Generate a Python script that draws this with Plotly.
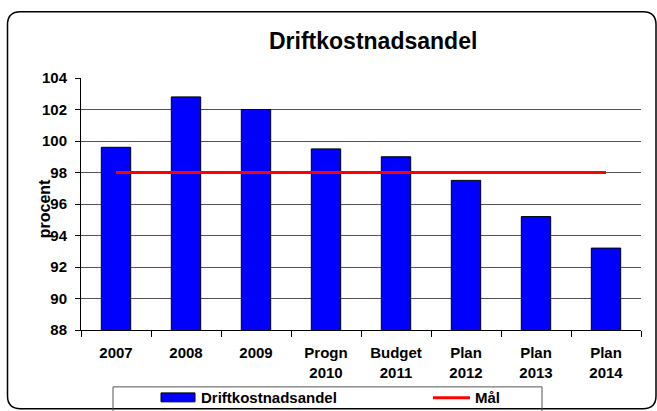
import plotly.graph_objects as go

categories = ["2007", "2008", "2009", "Progn<br>2010", "Budget<br>2011",
              "Plan<br>2012", "Plan<br>2013", "Plan<br>2014"]
andel = [99.6, 102.8, 102.0, 99.5, 99.0, 97.5, 95.2, 93.2]
mal = [98, 98, 98, 98, 98, 98, 98, 98]
y_ticks = [88, 90, 92, 94, 96, 98, 100, 102, 104]

W, H = 657, 411
ML, MR, MT, MB = 81, 16, 77.5, 81
PW = W - ML - MR
PH = H - MT - MB

def px(x):
    return (x - ML) / PW

def py(y):
    return (H - MB - y) / PH

FONT = "Liberation Sans, Arial, sans-serif"

fig = go.Figure()
fig.add_trace(go.Bar(
    x=categories, y=andel, name="Driftkostnadsandel",
    marker=dict(color="#0000FF", line=dict(color="#000000", width=1)),
    width=0.42, showlegend=False,
))
fig.add_trace(go.Scatter(
    x=categories, y=mal, name="Mål", mode="lines",
    line=dict(color="#FF0000", width=3), showlegend=False,
))

# outer rounded border
x0, x1, y0, y1, r = 7.5, 656, 11, 409, 13
path = (
    f"M {px(x0 + r)},{py(y0)} L {px(x1 - r)},{py(y0)} "
    f"Q {px(x1)},{py(y0)} {px(x1)},{py(y0 + r)} "
    f"L {px(x1)},{py(y1 - r)} Q {px(x1)},{py(y1)} {px(x1 - r)},{py(y1)} "
    f"L {px(x0 + r)},{py(y1)} Q {px(x0)},{py(y1)} {px(x0)},{py(y1 - r)} "
    f"L {px(x0)},{py(y0 + r)} Q {px(x0)},{py(y0)} {px(x0 + r)},{py(y0)} Z"
)
shapes = [
    dict(type="path", xref="paper", yref="paper", path=path,
         line=dict(color="#000000", width=1.5)),
    # legend box
    dict(type="rect", xref="paper", yref="paper",
         x0=px(113), x1=px(542), y0=py(387), y1=py(420),
         line=dict(color="#555555", width=1)),
    dict(type="rect", xref="paper", yref="paper",
         x0=px(161), x1=px(195), y0=py(393), y1=py(402),
         fillcolor="#0000FF", line=dict(color="#000000", width=1)),
    dict(type="line", xref="paper", yref="paper",
         x0=px(433), x1=px(470), y0=py(398), y1=py(398),
         line=dict(color="#FF0000", width=3)),
]

annotations = [
    dict(text="<b>Driftkostnadsandel</b>", xref="paper", yref="paper",
         x=px(199), y=py(398), xanchor="left", yanchor="middle",
         showarrow=False, font=dict(family=FONT, size=15, color="#000000")),
    dict(text="<b>Mål</b>", xref="paper", yref="paper",
         x=px(473), y=py(398), xanchor="left", yanchor="middle",
         showarrow=False, font=dict(family=FONT, size=15, color="#000000")),
    dict(text="<b>procent</b>", xref="paper", yref="paper",
         x=px(44), y=py(209), xanchor="center", yanchor="middle",
         textangle=-90, showarrow=False,
         font=dict(family=FONT, size=16, color="#000000")),
    dict(text="<b>Driftkostnadsandel</b>", xref="paper", yref="paper",
         x=px(373), y=py(40), xanchor="center", yanchor="middle",
         showarrow=False, font=dict(family=FONT, size=23, color="#000000")),
]

fig.update_layout(
    width=W, height=H,
    margin=dict(l=ML, r=MR, t=MT, b=MB, autoexpand=False),
    paper_bgcolor="#FFFFFF", plot_bgcolor="#FFFFFF",
    shapes=shapes, annotations=annotations,
    font=dict(family=FONT, color="#000000"),
    bargap=0.58,
)
fig.update_xaxes(
    showline=True, linecolor="#000000", linewidth=1,
    ticks="outside", tickson="boundaries", ticklen=6, tickcolor="#000000",
    showgrid=False, tickfont=dict(family=FONT, size=15, color="#000000"),
    tickprefix="<b>", ticksuffix="</b>", ticklabelstandoff=9,
)
fig.update_yaxes(
    range=[88, 104], tickvals=y_ticks, ticktext=[f"<b>{v}</b>" for v in y_ticks],
    showline=True, linecolor="#000000", linewidth=1,
    ticks="outside", ticklen=5, tickcolor="#000000",
    showgrid=True, gridcolor="#505050", gridwidth=1,
    zeroline=False, tickfont=dict(family=FONT, size=15, color="#000000"),
    ticklabelstandoff=5,
)
fig.write_html(
    "out.html",
    config={"displayModeBar": False},
    post_script="document.body.style.margin='0';document.body.style.overflow='hidden';",
)
